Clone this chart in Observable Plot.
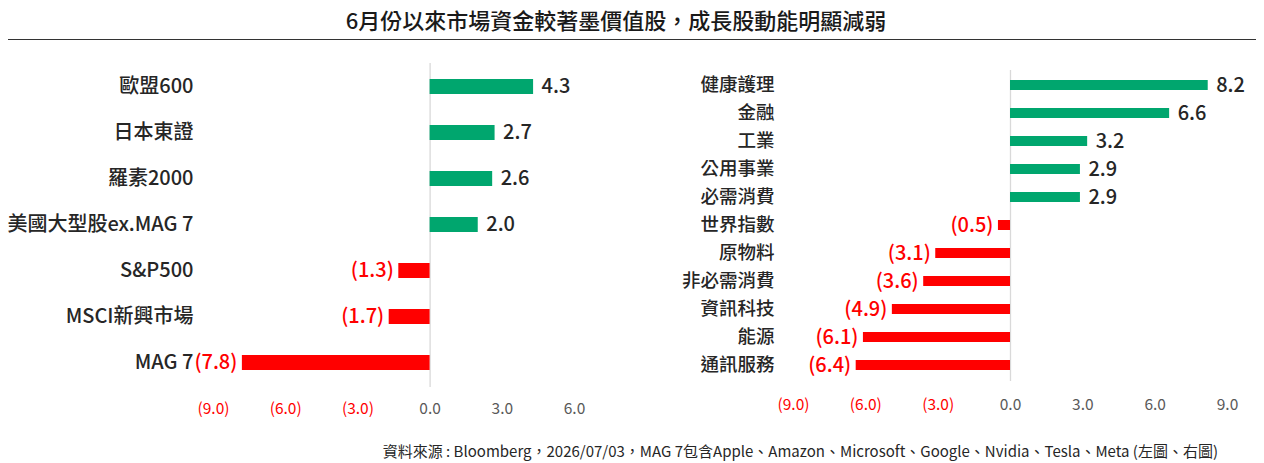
<!DOCTYPE html>
<html><head><meta charset="utf-8">
<script src="https://cdn.jsdelivr.net/npm/d3@7"></script>
<script src="https://cdn.jsdelivr.net/npm/@observablehq/plot@0.6"></script>
<style>
html,body{margin:0;padding:0;background:#fff;}
body{width:1264px;height:463px;position:relative;overflow:hidden;font-family:"Noto Sans CJK TC","Noto Sans",sans-serif;}
#title{position:absolute;left:-16px;width:1264px;top:5px;text-align:center;font-size:22px;font-weight:500;color:#1a1a1a;line-height:28px;}
#rule{position:absolute;left:8px;width:1248px;top:39px;height:0;border-top:1.3px solid #333;}
#left{position:absolute;left:0;top:41px;}
#right{position:absolute;left:640px;top:40px;}
#cap{position:absolute;right:46px;top:441px;font-size:15px;color:#262626;line-height:20px;white-space:nowrap;}
</style></head><body>
<div id="title">6月份以來市場資金較著墨價值股，成長股動能明顯減弱</div>
<div id="rule"></div>
<div id="left"></div>
<div id="right"></div>
<div id="cap">資料來源 : Bloomberg，2026/07/03，MAG 7包含Apple、Amazon、Microsoft、Google、Nvidia、Tesla、Meta (左圖、右圖)</div>
<script>
const leftCategories = ["歐盟600","日本東證","羅素2000","美國大型股ex.MAG 7","S&P500","MSCI新興市場","MAG 7"];
const leftValues = [4.3, 2.7, 2.6, 2.0, -1.3, -1.7, -7.8];
const leftTicks = [-9, -6, -3, 0, 3, 6];

const rightCategories = ["健康護理","金融","工業","公用事業","必需消費","世界指數","原物料","非必需消費","資訊科技","能源","通訊服務"];
const rightValues = [8.2, 6.6, 3.2, 2.9, 2.9, -0.5, -3.1, -3.6, -4.9, -6.1, -6.4];
const rightTicks = [-9, -6, -3, 0, 3, 6, 9];

const GREEN = "#00A66E", RED = "#FF0000";
const fmt = v => v < 0 ? `(${Math.abs(v).toFixed(1)})` : v.toFixed(1);
const FONT = '"Noto Sans CJK TC","Noto Sans",sans-serif';

const left = (() => {
  const data = leftCategories.map((c, i) => ({c, v: leftValues[i]}));
  return Plot.plot({
    width: 620, height: 390, marginLeft: 213, marginRight: 46, marginTop: 22, marginBottom: 44,
    style: {fontFamily: FONT, background: "transparent"},
    x: {domain: [-9, 6], axis: null},
    y: {domain: leftCategories, padding: 0.665, paddingOuter: 0.3325, axis: null},
    marks: [
      Plot.ruleX([0], {stroke: "#d9d9d9", strokeWidth: 1.3}),
      Plot.barX(data, {x: "v", y: "c", fill: d => d.v < 0 ? RED : GREEN}),
      Plot.axisY({tickSize: 0, tickPadding: 20, fontSize: 20, fontWeight: 500, fill: "#262626", label: null}),
      Plot.axisX({ticks: leftTicks, tickSize: 0, tickPadding: 15, tickFormat: fmt, fontSize: 15.5, fill: d => d < 0 ? RED : "#595959", label: null}),
      Plot.text(data.filter(d => d.v >= 0), {x: "v", y: "c", text: d => fmt(d.v), textAnchor: "start", dx: 8, fontSize: 20, fontWeight: 500, fill: "#262626"}),
      Plot.text(data.filter(d => d.v < 0), {x: "v", y: "c", text: d => fmt(d.v), textAnchor: "end", dx: -5, fontSize: 20, fontWeight: 500, fill: RED})
    ]
  });
})();

const right = (() => {
  const data = rightCategories.map((c, i) => ({c, v: rightValues[i]}));
  return Plot.plot({
    width: 624, height: 390, marginLeft: 153, marginRight: 37, marginTop: 30, marginBottom: 49,
    style: {fontFamily: FONT, background: "transparent"},
    x: {domain: [-9, 9], axis: null},
    y: {domain: rightCategories, padding: 0.63, paddingOuter: 0.315, axis: null},
    marks: [
      Plot.ruleX([0], {stroke: "#d9d9d9", strokeWidth: 1.3}),
      Plot.barX(data, {x: "v", y: "c", fill: d => d.v < 0 ? RED : GREEN}),
      Plot.axisY({tickSize: 0, tickPadding: 19, fontSize: 18.5, fontWeight: 500, fill: "#262626", label: null}),
      Plot.axisX({ticks: rightTicks, tickSize: 0, tickPadding: 17, tickFormat: fmt, fontSize: 15.5, fill: d => d < 0 ? RED : "#595959", label: null}),
      Plot.text(data.filter(d => d.v >= 0), {x: "v", y: "c", text: d => fmt(d.v), textAnchor: "start", dx: 8, fontSize: 20, fontWeight: 500, fill: "#262626"}),
      Plot.text(data.filter(d => d.v < 0), {x: "v", y: "c", text: d => fmt(d.v), textAnchor: "end", dx: -5, fontSize: 20, fontWeight: 500, fill: RED})
    ]
  });
})();

document.getElementById("left").appendChild(left);
document.getElementById("right").appendChild(right);
</script>
</body></html>
